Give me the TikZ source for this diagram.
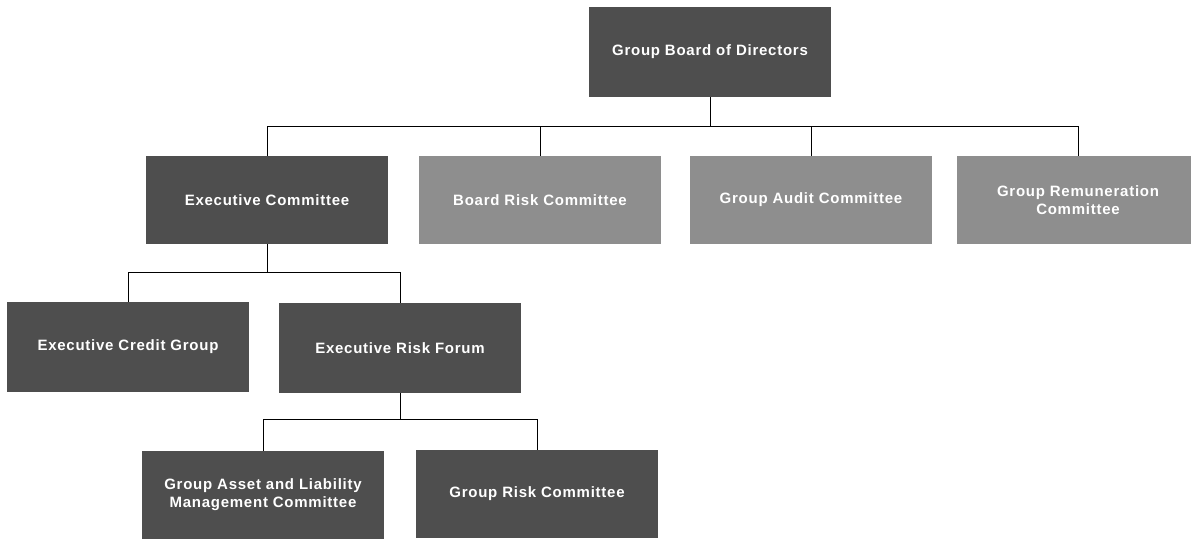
\documentclass[tikz,border=0pt]{standalone}
\usepackage{fontspec}
\setmainfont{Liberation Sans}[LetterSpace=5]
\definecolor{boxdark}{HTML}{4E4E4E}
\definecolor{boxlight}{HTML}{8E8E8E}
\tikzset{
  orgbox/.style={minimum width=242pt, minimum height=88pt, inner sep=0pt,
    text=white, font=\bfseries\fontsize{15}{18}\selectfont, align=center},
  darkbox/.style={orgbox, fill=boxdark},
  lightbox/.style={orgbox, fill=boxlight},
  conn/.style={draw=black, line width=1pt}
}
\begin{document}
\begin{tikzpicture}[x=1pt,y=-1pt]
\useasboundingbox (0,0) rectangle (1191,539);
\clip (0,0) rectangle (1191,539);
% nodes
\node[darkbox, minimum height=90pt] (top) at (710,52) {Group Board of Directors};
\node[darkbox] (exec) at (267,200) {Executive Committee};
\node[lightbox] (brc) at (540,200) {Board Risk Committee};
\node[lightbox] (gac) at (811,200) {Group Audit Committee};
\node[lightbox] (grc) at (1078,200) {Group Remuneration\\Committee};
\node[darkbox, minimum height=90pt] (ecg) at (128,347) {Executive Credit Group};
\node[darkbox, minimum height=90pt] (erf) at (400,348) {Executive Risk Forum};
\node[darkbox] (galmc) at (263,495) {Group Asset and Liability\\Management Committee};
\node[darkbox] (grisk) at (537,494) {Group Risk Committee};
% bus levels
\coordinate (bus1) at (0,126);
\coordinate (bus2) at (0,272);
\coordinate (bus3) at (0,419);
% connectors
\draw[conn] (top.south) -- (top.south |- bus1);
\draw[conn] (exec.north) |- (grc.north |- bus1) -- (grc.north);
\draw[conn] (brc.north) -- (brc.north |- bus1);
\draw[conn] (gac.north) -- (gac.north |- bus1);
\draw[conn] (exec.south) -- (exec.south |- bus2);
\draw[conn] (ecg.north) |- (erf.north |- bus2) -- (erf.north);
\draw[conn] (erf.south) -- (erf.south |- bus3);
\draw[conn] (galmc.north) |- (grisk.north |- bus3) -- (grisk.north);
\end{tikzpicture}
\end{document}
